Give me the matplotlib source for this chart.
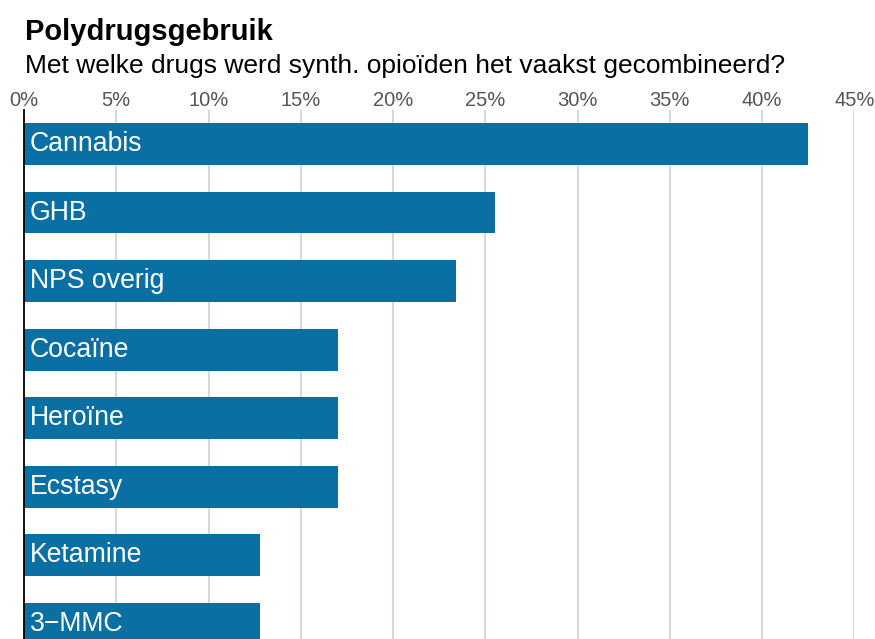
import numpy as np
import matplotlib.pyplot as plt

# Met welke drugs werden synthetische opioïden het vaakst gecombineerd (%)
drugs = ['Cannabis', 'GHB', 'NPS overig', 'Cocaïne', 'Heroïne', 'Ecstasy', 'Ketamine', '3\u2212MMC']
percentages = [42.5, 25.5, 23.4, 17.0, 17.0, 17.0, 12.8, 12.8]
ticks = [0, 5, 10, 15, 20, 25, 30, 35, 40, 45]

plt.rcParams['font.family'] = ['Liberation Sans', 'DejaVu Sans']

bar_color = '#0a6fa2'
grid_color = '#c3ced8'

fig = plt.figure(figsize=(8.75, 6.39), dpi=100)
ax = fig.add_axes([24 / 875, 0, (854.3 - 24) / 875, 1 - 109.7 / 639])

y = np.arange(len(drugs))
ax.barh(y, percentages, height=0.61, color=bar_color, zorder=2)

# namen in de balken
for i, name in enumerate(drugs):
    ax.text(0.3, i, name, color='white', fontsize=19.2, va='center', ha='left', zorder=3)

ax.set_xlim(0, 45)
ax.set_ylim(7.22, -0.5)
ax.set_xticks(ticks)
ax.set_xticklabels([f'{t}%' for t in ticks], fontsize=14.5, color='#555555')
ax.xaxis.tick_top()
ax.tick_params(axis='x', length=0, pad=-0.5)
ax.set_yticks([])
ax.grid(axis='x', color=grid_color, linewidth=1.1, zorder=0)

for side in ['top', 'right', 'bottom']:
    ax.spines[side].set_visible(False)
ax.spines['left'].set_color('black')
ax.spines['left'].set_linewidth(1.3)
ax.spines['left'].set_zorder(4)

fig.text(25 / 875, 1 - 40 / 639, 'Polydrugsgebruik', fontsize=21, fontweight='bold',
         ha='left', va='baseline')
fig.text(25 / 875, 1 - 72.7 / 639, 'Met welke drugs werd synth. opioïden het vaakst gecombineerd?',
         fontsize=19, ha='left', va='baseline')

fig.savefig('out.png', dpi=100)
